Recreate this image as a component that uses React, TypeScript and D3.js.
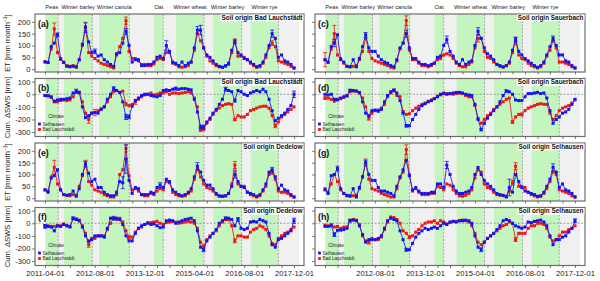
import { useEffect, useRef } from 'react'
import * as d3 from 'd3'

// monthly steps, 2011-04 .. 2017-12 (81 values per series)
const months = d3.timeMonth.range(new Date(2011, 3, 1), new Date(2018, 0, 1))

const cropNames = ['Peas', 'Winter barley', 'Winter canola', 'Oat', 'Winter wheat', 'Winter barley', 'Winter rye']
const cropStart = ['2011-04-05', '2011-10-04', '2012-09-12', '2014-03-04', '2014-10-04', '2015-10-04', '2016-10-04']
const cropEnd = ['2011-08-08', '2012-07-07', '2013-07-04', '2014-06-01', '2015-07-04', '2016-07-07', '2017-07-01']
const fallowRange = ['2011-04-01', '2018-01-20']

const etTicks = [0, 50, 100, 150, 200]
const swsTicks = [100, 0, -100, -200, -300]

// ET [mm/month], soil origin Bad Lauchstädt
const etA_sel = [30, 28, 95, 110, 145, 42, 28, 12, 10, 12, 10, 40, 105, 175, 115, 70, 75, 55, 60, 40, 30, 20, 12, 65, 70, 110, 160, 100, 30, 40, 40, 15, 15, 20, 20, 30, 50, 55, 45, 100, 75, 30, 25, 15, 30, 15, 25, 30, 90, 165, 165, 90, 60, 50, 35, 20, 12, 8, 15, 25, 80, 115, 70, 60, 45, 40, 30, 20, 10, 15, 30, 60, 100, 150, 130, 50, 60, 35, 30, 20, 5]
const etA_bl = [32, 28, 85, 170, 70, 45, 30, 15, 12, 15, 8, 40, 100, 180, 70, 55, 45, 35, 25, 20, 15, 10, 5, 60, 95, 130, 205, 75, 45, 45, 35, 20, 20, 15, 15, 22, 40, 45, 40, 70, 70, 25, 20, 10, 8, 10, 15, 30, 80, 150, 120, 90, 55, 35, 25, 15, 10, 8, 12, 20, 70, 120, 55, 55, 50, 40, 25, 15, 8, 10, 25, 50, 90, 110, 95, 35, 30, 25, 20, 12, 5]
// Cum. dSWS [mm], soil origin Bad Lauchstädt
const swsB_sel = [-10, -12, -20, -55, -45, -40, -40, -35, -30, 10, 25, 15, -100, -185, -170, -150, -145, -150, -120, -100, -40, 0, 45, 30, 15, -60, -180, -180, -95, -50, -30, -10, 0, 0, -10, -15, -20, -10, 30, 35, 30, 40, 45, 40, 45, 45, 40, 35, -40, -140, -260, -260, -220, -190, -150, -120, -80, -40, 40, 30, 20, -50, 30, 20, 0, -10, 10, 20, 30, 20, 40, 20, -40, -130, -210, -190, -170, -150, -120, -90, 0]
const swsB_bl = [-10, -12, -25, -60, -60, -50, -45, -50, -45, -20, 15, 15, -60, -150, -200, -150, -145, -130, -115, -100, -60, -20, 20, 30, 15, 25, -80, -90, -80, -60, -40, -20, -5, 0, 10, -5, 0, 10, 10, 20, 0, 10, 10, 5, 10, 15, 20, 10, -30, -100, -280, -280, -230, -200, -160, -130, -110, -90, -80, -75, -80, -200, -170, -180, -180, -160, -130, -120, -110, -100, -95, -95, -110, -170, -250, -220, -180, -160, -140, -120, -100]
// soil origin Sauerbach
const etC_sel = [40, 30, 95, 110, 145, 40, 30, 12, 10, 40, 10, 45, 95, 145, 90, 75, 75, 55, 40, 30, 25, 15, 10, 40, 90, 110, 150, 90, 45, 45, 30, 20, 20, 15, 20, 25, 50, 55, 100, 125, 75, 55, 30, 20, 40, 20, 30, 35, 100, 160, 130, 90, 65, 55, 40, 20, 15, 10, 15, 30, 80, 125, 75, 60, 45, 35, 25, 15, 8, 15, 30, 60, 95, 130, 100, 60, 60, 35, 30, 15, 5]
const etC_bl = [40, 28, 85, 150, 60, 45, 25, 12, 10, 12, 15, 40, 75, 130, 75, 45, 35, 30, 25, 20, 15, 8, 5, 35, 85, 110, 205, 80, 40, 40, 25, 15, 15, 10, 15, 25, 40, 45, 60, 65, 60, 45, 25, 15, 10, 10, 20, 30, 90, 130, 130, 75, 50, 45, 30, 20, 12, 8, 15, 25, 70, 120, 60, 45, 40, 25, 15, 10, 5, 10, 25, 55, 80, 120, 90, 30, 30, 25, 20, 10, 5]
const swsD_sel = [0, -5, 0, -40, -45, -30, -20, -10, 30, 30, 25, 15, -60, -150, -170, -130, -125, -135, -120, -60, -10, 20, 30, 10, -50, -150, -250, -250, -200, -160, -120, -90, -75, -60, -50, -35, -20, 0, 5, 0, 5, 10, 15, 15, 10, 0, -5, -10, -80, -200, -280, -230, -190, -160, -130, -100, -60, -10, 25, 20, 0, -45, -50, -50, -20, 5, 5, 10, 15, 5, 10, -30, -130, -230, -200, -180, -150, -140, -120, -80, -40]
const swsD_bl = [-30, -30, -40, -55, -40, -35, -25, -15, 20, 25, 25, 10, -30, -100, -190, -150, -130, -125, -110, -80, -20, 10, 35, -10, -20, -140, -160, -155, -130, -110, -95, -80, -70, -55, -45, -35, -15, -5, 10, 5, 5, 0, 5, 10, 5, -10, -20, -20, -90, -190, -230, -200, -170, -150, -120, -100, -80, -60, -40, -30, -220, -180, -160, -160, -130, -110, -100, -90, -80, -75, -80, -80, -150, -200, -170, -130, -110, -100, -90, -70, -45]
// soil origin Dedelow
const etE_sel = [35, 25, 85, 95, 120, 35, 15, 12, 15, 30, 10, 40, 100, 145, 105, 70, 80, 45, 45, 25, 15, 10, 10, 25, 70, 65, 165, 75, 20, 45, 40, 15, 15, 15, 25, 20, 45, 55, 45, 80, 70, 35, 25, 15, 10, 15, 25, 40, 90, 135, 110, 75, 55, 55, 40, 20, 10, 8, 10, 20, 50, 100, 70, 50, 45, 25, 20, 15, 8, 15, 35, 60, 110, 120, 90, 40, 55, 35, 30, 15, 5]
const etE_bl = [35, 30, 90, 130, 60, 35, 15, 12, 10, 15, 8, 50, 95, 145, 70, 55, 35, 30, 25, 15, 10, 5, 5, 15, 100, 120, 210, 95, 35, 40, 30, 15, 10, 10, 20, 15, 30, 40, 35, 70, 65, 25, 15, 10, 8, 10, 20, 30, 80, 120, 90, 60, 45, 40, 30, 15, 8, 8, 10, 20, 60, 140, 60, 50, 50, 25, 15, 10, 5, 10, 30, 50, 100, 110, 80, 30, 25, 25, 20, 10, 5]
const swsF_sel = [-25, -25, -30, -60, -20, -25, -10, -20, -30, 40, 30, 20, -30, -100, -140, -130, -100, -100, -100, -110, -40, 40, 40, 40, 30, -10, -100, -140, -140, -80, -40, -20, -10, 0, -10, -5, -20, -35, -30, 20, 25, 20, 0, 10, 20, 30, 35, 40, 20, -60, -190, -210, -140, -110, -80, -50, 0, 20, 40, 40, 30, -20, 30, -40, -50, -40, 10, 15, 10, 30, 20, 10, -80, -170, -190, -130, -120, -100, -80, -60, 20]
const swsF_bl = [-20, -20, -25, -25, -20, -20, -5, -20, -25, 35, 35, 25, -20, -80, -170, -120, -120, -100, -100, -100, -50, 0, 40, 30, 40, 10, -60, -110, -110, -70, -40, -30, -10, 5, 5, 10, 15, 0, -10, 5, 10, 15, 10, 0, 5, 10, 15, 10, 0, -40, -150, -180, -130, -100, -80, -60, -20, 10, 30, 30, -20, -140, -100, -100, -110, -110, -70, -50, -40, -20, -30, -50, -100, -160, -170, -120, -100, -80, -70, -50, -30]
// soil origin Selhausen
const etG_sel = [35, 20, 95, 100, 125, 40, 20, 12, 10, 40, 5, 45, 90, 150, 100, 75, 75, 45, 30, 30, 25, 20, 10, 50, 90, 120, 160, 95, 35, 45, 30, 20, 20, 20, 25, 25, 60, 60, 45, 140, 100, 50, 30, 20, 20, 25, 30, 45, 100, 130, 100, 75, 60, 50, 35, 20, 15, 12, 5, 45, 25, 100, 70, 45, 30, 25, 20, 15, 8, 10, 25, 50, 80, 130, 110, 45, 60, 35, 30, 20, 5]
const etG_bl = [40, 25, 60, 100, 70, 35, 20, 10, 8, 10, 12, 40, 90, 150, 80, 40, 35, 30, 20, 15, 10, 5, 5, 40, 85, 110, 205, 100, 30, 40, 25, 15, 15, 15, 20, 20, 50, 45, 35, 60, 55, 35, 20, 10, 8, 12, 20, 35, 85, 120, 110, 60, 45, 40, 25, 15, 12, 10, 8, 30, 65, 135, 50, 50, 45, 25, 15, 10, 5, 8, 20, 40, 70, 110, 100, 35, 30, 25, 20, 10, 5]
const swsH_sel = [-25, -25, -20, -90, -55, -55, -50, -40, 20, 25, 20, -20, -90, -150, -130, -130, -130, -120, -100, -40, 20, 40, 30, 20, -60, -130, -210, -210, -160, -110, -80, -60, -40, -50, -40, -30, -40, -20, 0, -10, 10, 15, 10, 20, 20, 25, 20, 0, -100, -190, -210, -150, -120, -100, -80, -50, -20, 20, 30, 20, 0, -20, -30, -40, -30, 10, 5, 15, 20, 25, 10, -20, -100, -170, -130, -130, -110, -100, -70, -40, 20]
const swsH_bl = [-15, -20, -10, -30, -25, -40, -30, -30, 25, 30, 25, -10, -100, -140, -150, -120, -130, -130, -110, -50, 10, 50, 45, 30, 0, -60, -80, -110, -100, -70, -50, -20, 0, 10, 10, 20, 0, 20, 10, -5, 5, 15, 15, 20, 25, 20, 10, -20, -80, -150, -170, -150, -120, -100, -80, -60, -40, -20, -10, 10, 0, -130, -80, -80, -80, -40, -20, -20, 0, 0, -10, -40, -110, -140, -130, -100, -70, -70, -50, -40, -20]

// visible error bars: [month index, half width]
type Err = [number, number][]
const errA_sel: Err = [[4, 8], [13, 20], [16, 10], [26, 12], [39, 20], [49, 15], [50, 20], [61, 8], [73, 15]]
const errA_bl: Err = [[3, 25], [13, 18], [26, 15], [61, 8], [73, 10]]
const errB_sel: Err = [[10, 15], [22, 15], [26, 20], [27, 15], [42, 12], [50, 15], [51, 15], [58, 15], [61, 12], [80, 25]]
const errB_bl: Err = [[14, 30], [16, 25], [26, 12], [29, 20], [50, 15], [61, 10], [74, 15]]
const errC_sel: Err = [[3, 15], [13, 10], [26, 15], [39, 15], [49, 15], [61, 10], [73, 10]]
const errC_bl: Err = [[0, 30], [3, 35], [26, 20], [49, 15], [61, 15]]
const errD_sel: Err = [[8, 10], [22, 10], [26, 10], [50, 10], [58, 10]]
const errD_bl: Err = [[0, 10], [14, 15], [25, 10], [60, 10], [63, 12]]
const errE_sel: Err = [[13, 10], [25, 25], [26, 60], [37, 10], [49, 15], [61, 15], [73, 10]]
const errE_bl: Err = [[3, 30], [13, 15], [26, 15], [61, 15], [73, 10]]
const errF_sel: Err = [[0, 15], [9, 10], [22, 15], [51, 15], [58, 10], [62, 15], [80, 20]]
const errF_bl: Err = [[14, 20], [27, 15], [61, 15]]
const errG_sel: Err = [[4, 10], [13, 10], [39, 15], [59, 35], [73, 15]]
const errG_bl: Err = [[13, 15], [26, 20], [60, 10], [61, 15]]
const errH_sel: Err = [[3, 15], [8, 10], [26, 12], [50, 15], [80, 15]]
const errH_bl: Err = [[14, 15], [27, 12], [61, 15]]

interface Panel {
  letter: string
  kind: 'et' | 'sws'
  site: string
  col: number
  row: number
  sel: number[]
  bl: number[]
  errSel: Err
  errBl: Err
}

const panels: Panel[] = [
  { letter: '(a)', kind: 'et', site: 'Bad Lauchstädt', col: 0, row: 0, sel: etA_sel, bl: etA_bl, errSel: errA_sel, errBl: errA_bl },
  { letter: '(b)', kind: 'sws', site: 'Bad Lauchstädt', col: 0, row: 1, sel: swsB_sel, bl: swsB_bl, errSel: errB_sel, errBl: errB_bl },
  { letter: '(c)', kind: 'et', site: 'Sauerbach', col: 1, row: 0, sel: etC_sel, bl: etC_bl, errSel: errC_sel, errBl: errC_bl },
  { letter: '(d)', kind: 'sws', site: 'Sauerbach', col: 1, row: 1, sel: swsD_sel, bl: swsD_bl, errSel: errD_sel, errBl: errD_bl },
  { letter: '(e)', kind: 'et', site: 'Dedelow', col: 0, row: 2, sel: etE_sel, bl: etE_bl, errSel: errE_sel, errBl: errE_bl },
  { letter: '(f)', kind: 'sws', site: 'Dedelow', col: 0, row: 3, sel: swsF_sel, bl: swsF_bl, errSel: errF_sel, errBl: errF_bl },
  { letter: '(g)', kind: 'et', site: 'Selhausen', col: 1, row: 2, sel: etG_sel, bl: etG_bl, errSel: errG_sel, errBl: errG_bl },
  { letter: '(h)', kind: 'sws', site: 'Selhausen', col: 1, row: 3, sel: swsH_sel, bl: swsH_bl, errSel: errH_sel, errBl: errH_bl },
]

export default function App() {
  const svgRef = useRef<SVGSVGElement>(null)

  useEffect(() => {
    if (!svgRef.current) return
    const svg = d3.select(svgRef.current)
    svg.selectAll('*').remove()
    svg.attr('font-family', 'Liberation Sans, Arial, Helvetica, sans-serif')

    const parse = d3.timeParse('%Y-%m-%d')
    const colX = [[35, 304], [315, 585]]
    const rowTop = [14, 78.5, 143, 207.5]
    const rowH = 58
    const pad = 10
    const green = '#c4f5be'
    const fallow = '#f0f0f0'
    const blue = '#1212f2'
    const red = '#f21212'
    const fmt = d3.timeFormat('%Y-%m-%d')
    const xTicks = months.filter((_, i) => i % 4 === 0)

    const xScales = colX.map(([l, r]) =>
      d3.scaleTime().domain([months[0], months[months.length - 1]]).range([l + pad, r - pad])
    )

    // crop labels above top row
    xScales.forEach((x) => {
      cropNames.forEach((name, i) => {
        const cx = (x(parse(cropStart[i])!) + x(parse(cropEnd[i])!)) / 2
        svg.append('text')
          .attr('x', cx).attr('y', 9)
          .attr('text-anchor', 'middle')
          .attr('font-size', 5.7)
          .attr('fill', '#222')
          .text(name)
      })
    })

    const defs = svg.append('defs')

    panels.forEach((p, pi) => {
      const [l, r] = colX[p.col]
      const top = rowTop[p.row]
      const bottom = top + rowH
      const x = xScales[p.col]
      const y = d3.scaleLinear()
        .domain(p.kind === 'et' ? [-12, 233] : [-335, 125])
        .range([bottom, top])

      defs.append('clipPath').attr('id', `clip-${pi}`)
        .append('rect').attr('x', l).attr('y', top).attr('width', r - l).attr('height', rowH)

      const g = svg.append('g')
      const inner = g.append('g').attr('clip-path', `url(#clip-${pi})`)

      inner.append('rect').attr('x', l).attr('y', top).attr('width', r - l).attr('height', rowH).attr('fill', '#fff')
      inner.append('rect')
        .attr('x', x(parse(fallowRange[0])!)).attr('y', top)
        .attr('width', x(parse(fallowRange[1])!) - x(parse(fallowRange[0])!))
        .attr('height', rowH).attr('fill', fallow)

      cropStart.forEach((s, i) => {
        const x0 = x(parse(s)!)
        const x1 = x(parse(cropEnd[i])!)
        inner.append('rect').attr('x', x0).attr('y', top).attr('width', x1 - x0).attr('height', rowH).attr('fill', green)
        inner.append('line')
          .attr('x1', x1).attr('x2', x1).attr('y1', top).attr('y2', bottom)
          .attr('stroke', '#999').attr('stroke-width', 0.8).attr('stroke-dasharray', '2,1.5')
      })

      if (p.kind === 'sws') {
        inner.append('line')
          .attr('x1', l).attr('x2', r).attr('y1', y(0)).attr('y2', y(0))
          .attr('stroke', '#888').attr('stroke-width', 0.8).attr('stroke-dasharray', '2,1.5')
      }

      const drawSeries = (vals: number[], errs: Err, color: string) => {
        const line = d3.line<number>().x((_, i) => x(months[i])).y((d) => y(d))
        inner.append('path').datum(vals)
          .attr('fill', 'none').attr('stroke', color).attr('stroke-width', 0.85).attr('d', line)
        errs.forEach(([i, e]) => {
          const cx = x(months[i])
          const v = vals[i]
          const eg = inner.append('g').attr('stroke', color).attr('stroke-width', 0.8)
          eg.append('line').attr('x1', cx).attr('x2', cx).attr('y1', y(v - e)).attr('y2', y(v + e))
          eg.append('line').attr('x1', cx - 2).attr('x2', cx + 2).attr('y1', y(v - e)).attr('y2', y(v - e))
          eg.append('line').attr('x1', cx - 2).attr('x2', cx + 2).attr('y1', y(v + e)).attr('y2', y(v + e))
        })
        inner.append('g').selectAll('rect').data(vals).join('rect')
          .attr('x', (_, i) => x(months[i]) - 1.5)
          .attr('y', (d) => y(d) - 1.5)
          .attr('width', 3).attr('height', 3)
          .attr('fill', color)
      }
      drawSeries(p.bl, p.errBl, red)
      drawSeries(p.sel, p.errSel, blue)

      // frame
      g.append('rect').attr('x', l).attr('y', top).attr('width', r - l).attr('height', rowH)
        .attr('fill', 'none').attr('stroke', '#6e6e6e').attr('stroke-width', 1.2)

      // site title with white backing
      const title = g.append('text')
        .attr('x', r - 1.5).attr('y', top + 5.8)
        .attr('text-anchor', 'end').attr('font-size', 6.4).attr('font-weight', 'bold').attr('fill', '#111')
        .text(`Soil origin ${p.site}`)
      const bb = (title.node() as SVGTextElement).getBBox()
      g.insert('rect', 'text')
        .attr('x', bb.x - 1).attr('y', top + 0.6).attr('width', r - bb.x + 0.4).attr('height', 6.6)
        .attr('fill', '#fff')

      g.append('text')
        .attr('x', l + 3).attr('y', top + 12.5)
        .attr('font-size', 8.8).attr('font-weight', 'bold').attr('fill', '#111')
        .text(p.letter)

      // legend in storage panels
      if (p.kind === 'sws') {
        const lx = l + 4.5
        g.append('text').attr('x', l + 21).attr('y', top + 39.8).attr('font-size', 4.6)
          .attr('text-anchor', 'middle').attr('fill', '#222').text('Climate')
        ;[['Selhausen', blue, 45.5], ['Bad Lauchstädt', red, 51]].forEach(([name, c, dy]) => {
          g.append('rect').attr('x', lx - 1.4).attr('y', top + (dy as number) - 1.4)
            .attr('width', 2.8).attr('height', 2.8).attr('fill', c as string)
          g.append('text').attr('x', lx + 3).attr('y', top + (dy as number) + 1.6)
            .attr('font-size', 4.6).attr('fill', '#222').text(name as string)
        })
      }

      // axes
      const yAxis = d3.axisLeft(y)
        .tickValues(p.kind === 'et' ? etTicks : swsTicks)
        .tickSize(3).tickPadding(1.5)
        .tickFormat((d) => (p.col === 0 ? String(d) : ''))
      const ya = g.append('g').attr('transform', `translate(${l},0)`).call(yAxis)
      ya.select('.domain').remove()
      ya.selectAll('line').attr('stroke', '#444').attr('stroke-width', 0.7)
      ya.selectAll('text').attr('font-size', 7.6).attr('fill', '#222').attr('font-family', null)

      const isBottom = p.row === 3
      const xAxis = d3.axisBottom(x)
        .tickValues(xTicks)
        .tickSize(2.5).tickPadding(3)
        .tickFormat((d, i) => {
          if (!isBottom) return ''
          const idx = i * 4
          if (idx % 16 !== 0) return ''
          if (p.col === 1 && idx === 0) return ''
          return fmt(d as Date)
        })
      const xa = g.append('g').attr('transform', `translate(0,${bottom})`).call(xAxis)
      xa.select('.domain').remove()
      xa.selectAll('line').attr('stroke', '#444').attr('stroke-width', 0.7)
      xa.selectAll('text').attr('font-size', 7.6).attr('fill', '#222').attr('font-family', null)

      // y titles for left column
      if (p.col === 0) {
        const cy = top + rowH / 2
        const t = svg.append('text')
          .attr('transform', `translate(10,${cy}) rotate(-90)`)
          .attr('text-anchor', 'middle').attr('font-size', 7.6).attr('fill', '#222')
        if (p.kind === 'et') {
          t.append('tspan').text('ET [mm month')
          t.append('tspan').attr('dy', -2.8).attr('font-size', 5).text('−1')
          t.append('tspan').attr('dy', 2.8).text(']')
        } else {
          t.text('Cum. ΔSWS [mm]')
        }
      }
    })
  }, [])

  return (
    <svg
      ref={svgRef}
      width={600}
      height={281}
      style={{ position: 'absolute', left: 0, top: 0, background: '#fff' }}
    />
  )
}
